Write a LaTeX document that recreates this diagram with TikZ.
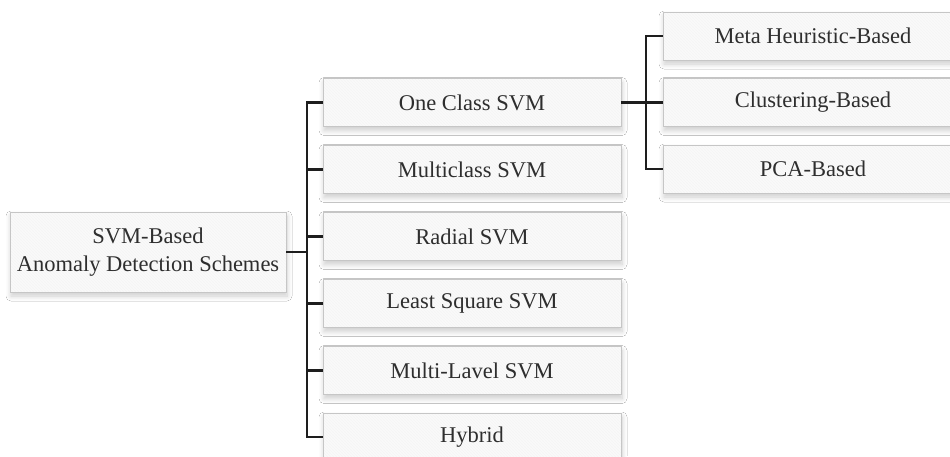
\documentclass[tikz,border=0pt]{standalone}
\usepackage{fontspec}
\setmainfont{Liberation Serif}
\usetikzlibrary{patterns,shadows.blur}
\definecolor{boxfill}{HTML}{FAFAFA}
\definecolor{boxline}{HTML}{C6C6C6}
\definecolor{txt}{HTML}{2E2E2E}
\definecolor{conncol}{HTML}{1E1E1E}
\tikzset{
  box/.style={fill=boxfill,
    postaction={pattern=north west lines, pattern color=black!4},
    postaction={draw=boxline, line width=1pt},
    blur shadow={shadow blur steps=8, shadow blur radius=5pt, shadow xshift=1pt, shadow yshift=-4pt, shadow opacity=20},
    inner sep=0pt, minimum height=48pt, text=txt, align=center,
    font=\fontsize{22.5}{28}\selectfont},
  midbox/.style={box, minimum width=298pt},
  rightbox/.style={box, minimum width=300pt},
  conn/.style={draw=conncol, line width=2.2pt, line join=miter}
}
\begin{document}
\begin{tikzpicture}[x=1pt,y=-1pt]
\useasboundingbox (0,0) rectangle (950,456);
\clip (0,0) rectangle (950,456);
\fill[white] (0,0) rectangle (950,456);
\node[box, minimum width=276pt, minimum height=80pt] (root) at (148,252) {SVM-Based\\Anomaly Detection Schemes};
\node[midbox] (m1) at (472,102.5) {One Class SVM};
\node[midbox] (m2) at (472,169.5) {Multiclass SVM};
\node[midbox] (m3) at (472,236.5) {Radial SVM};
\node[midbox] (m4) at (472,303.5) {Least Square SVM};
\node[midbox] (m5) at (472,370.5) {Multi-Lavel SVM};
\node[midbox] (m6) at (472,437) {Hybrid};
\node[rightbox] (r1) at (813,36) {Meta Heuristic-Based};
\node[rightbox] (r2) at (813,102.5) {Clustering-Based};
\node[rightbox] (r3) at (813,169) {PCA-Based};
\coordinate (busa) at (307,0);
\coordinate (busb) at (646,0);
\draw[conn] (root.east) -- (root.east -| busa);
\draw[conn] (m1.west) -- (m1.west -| busa) -- (m6.west -| busa) -- (m6.west);
\draw[conn] (m2.west) -- (m2.west -| busa);
\draw[conn] (m3.west) -- (m3.west -| busa);
\draw[conn] (m4.west) -- (m4.west -| busa);
\draw[conn] (m5.west) -- (m5.west -| busa);
\draw[conn] (m1.east) -- (r2.west);
\draw[conn] (r1.west) -- (r1.west -| busb) -- (r3.west -| busb) -- (r3.west);
\end{tikzpicture}
\end{document}
